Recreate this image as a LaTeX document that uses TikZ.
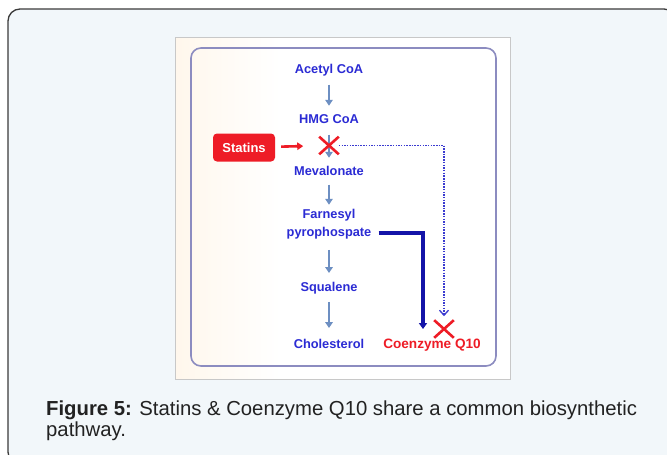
\documentclass[tikz,border=0pt]{standalone}
\usepackage{fontspec}
\setmainfont{Liberation Sans}
\usetikzlibrary{arrows.meta,shapes.misc}
\definecolor{outerfill}{HTML}{F2F7FA}
\definecolor{outerline}{HTML}{3A3A3A}
\definecolor{picline}{HTML}{C8C8C8}
\definecolor{cream}{HTML}{FFF7EC}
\definecolor{frameline}{HTML}{8C8CC0}
\definecolor{lblue}{HTML}{2B2BD4}
\definecolor{stepblue}{HTML}{6D8FC2}
\definecolor{sred}{HTML}{EE1C26}
\definecolor{thickblue}{HTML}{1414A8}
\definecolor{dotblue}{HTML}{3A3AD0}
\definecolor{captext}{HTML}{222222}
\tikzset{
  lbl/.style={text=lblue, font=\fontsize{12.8}{13}\selectfont\bfseries, inner sep=0pt, text height=9pt, text depth=2.5pt},
  steparrow/.style={draw=stepblue, line width=2.6pt, -{Triangle[length=6pt,width=7.5pt]}, shorten <=8pt, shorten >=9pt},
  xmark/.style={cross out, draw=sred, line width=2.6pt, minimum width=17pt, minimum height=15pt, inner sep=0pt},
  statbox/.style={fill=sred, rounded corners=4pt, text=white, font=\fontsize{13}{13}\selectfont\bfseries, minimum width=62pt, minimum height=28pt, inner sep=0pt},
  captxt/.style={text=captext, font=\fontsize{20.3}{21}\selectfont, inner sep=0pt, anchor=base west}
}
\begin{document}
\begin{tikzpicture}[x=1pt,y=-1pt]
\useasboundingbox (0,0) rectangle (667,455);
\clip (0,0) rectangle (667,455);
% outer frame
\draw[fill=outerfill, draw=outerline, line width=1.3pt, rounded corners=12pt] (8,9) rectangle (676,464);
% picture background
\fill[white] (175,37.5) rectangle (510.5,379.5);
\shade[left color=cream, right color=white] (175,37.5) rectangle (280,379.5);
\draw[picline, line width=0.8pt] (175,37.5) rectangle (510.5,379.5);
% inner frame
\draw[frameline, line width=1.6pt, rounded corners=10pt] (191,48) rectangle (496,366);
% labels
\node[lbl] (acetyl) at (329,70.7) {Acetyl CoA};
\node[lbl] (hmg) at (329,120.7) {HMG CoA};
\node[lbl] (mev) at (329,172.7) {Mevalonate};
\node[lbl] (farn) at (329,215.7) {Farnesyl};
\node[lbl] (pyro) at (329,233) {pyrophospate};
\node[lbl] (squal) at (329,288) {Squalene};
\node[lbl] (chol) at (329,345) {Cholesterol};
\node[lbl, text=sred, font=\fontsize{13.6}{14}\selectfont\bfseries] (coq) at (432,345) {Coenzyme Q10};
\node[statbox] (statins) at (244,147.5) {Statins};
% main pathway arrows
\draw[steparrow] (acetyl) -- (hmg);
\draw[steparrow] (hmg) -- (mev);
\draw[steparrow, shorten <=6pt, shorten >=5pt] (mev) -- (farn);
\draw[steparrow, shorten <=11pt] (pyro) -- (squal);
\draw[steparrow, shorten >=11pt] (squal) -- (chol);
% X marks
\node[xmark] (x1) at (329,145.5) {};
\node[xmark] (x2) at (444,329) {};
% statins arrow
\draw[sred, line width=2.6pt, -{Triangle[length=6pt,width=7.5pt]}, shorten <=6pt, shorten >=16pt] (statins) -- (x1);
% dotted feedback
\draw[dotblue, line width=1.3pt, dash pattern=on 1.5pt off 1.2pt, -{Straight Barb[length=5pt,width=9pt]}, shorten >=4pt] (x1.east) -| (x2.north);
% thick arrow to CoQ10
\draw[thickblue, line width=3.2pt, -{Triangle[length=6pt,width=8pt]}, shorten >=10pt] ([xshift=7pt]pyro.east) -| ([xshift=-9pt]coq.north);
% caption
\node[captxt] (cap1) at (46,415) {\textbf{Figure 5:} Statins \& Coenzyme Q10 share a common biosynthetic};
\node[captxt] (cap2) at (46,436) {pathway.};
\end{tikzpicture}
\end{document}
